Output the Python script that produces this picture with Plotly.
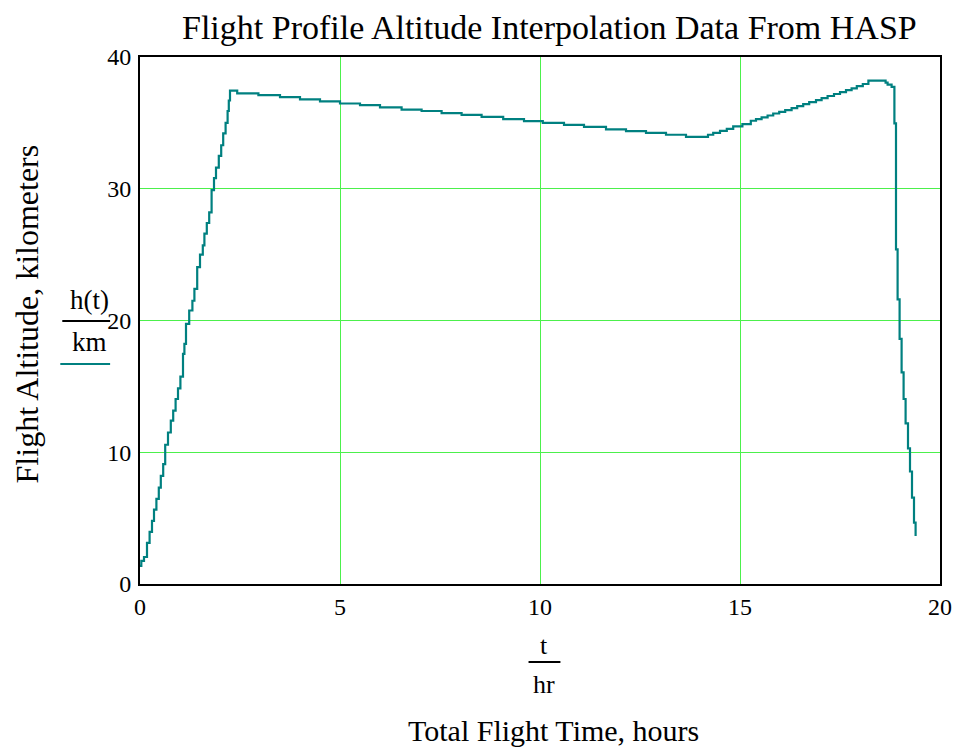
import plotly.graph_objects as go

# Time (hours) at which each step of the interpolated profile begins
t_hours = [
    0.0, 0.033, 0.1, 0.175, 0.24, 0.3, 0.35, 0.41, 0.47, 0.52, 0.58, 0.63, 0.7, 0.77, 0.83, 0.89, 0.95, 1.01, 1.075, 1.11, 1.15,
    1.23, 1.31, 1.36, 1.43, 1.5, 1.57, 1.61, 1.67, 1.73, 1.79, 1.85, 1.9, 1.97, 2.03, 2.08, 2.14, 2.19, 2.22, 2.25,
    2.43, 2.96, 3.5, 4.0, 4.5, 5.0, 5.5, 6.0, 6.54, 7.04, 7.54, 8.04, 8.54, 9.08, 9.6, 10.07, 10.6, 11.1, 11.65, 12.15,
    12.65, 13.15, 13.65,
    14.2, 14.33, 14.5, 14.67, 14.83, 15.06, 15.27, 15.4, 15.54, 15.69, 15.83, 15.98, 16.13, 16.29, 16.43, 16.58, 16.73,
    16.9, 17.04, 17.19, 17.35, 17.5, 17.65, 17.79, 17.92, 18.07, 18.21,
    18.64, 18.69, 18.79, 18.86, 18.9, 18.94, 18.99, 19.04, 19.09, 19.14, 19.2, 19.25, 19.3, 19.35, 19.39,
]
# Altitude (km) for each step
h_km = [
    1.37, 1.75, 2.05, 3.12, 3.95, 4.79, 5.65, 6.46, 7.32, 8.21, 9.1, 10.57, 11.5, 12.4, 13.16, 14.04, 14.85, 15.74, 17.47, 18.23, 19.75,
    20.76, 21.5, 22.4, 24.05, 25.0, 25.7, 26.6, 27.4, 28.2, 29.9, 30.8, 31.6, 32.5, 33.3, 34.2, 35.0, 35.9, 36.7, 37.45,
    37.24, 37.1, 36.96, 36.78, 36.63, 36.47, 36.35, 36.17, 36.0, 35.9, 35.74, 35.6, 35.46, 35.28, 35.13, 35.0, 34.85, 34.7, 34.5, 34.37,
    34.24, 34.1, 33.94,
    34.1, 34.24, 34.4, 34.55, 34.73, 34.9, 35.16, 35.28, 35.41, 35.56, 35.71, 35.84, 35.97, 36.12, 36.27, 36.43, 36.58,
    36.73, 36.88, 37.04, 37.19, 37.34, 37.49, 37.62, 37.79, 37.95, 38.2,
    38.05, 37.9, 37.74, 34.96, 25.4, 21.6, 18.6, 16.07, 14.04, 12.19, 10.3, 8.54, 6.56, 4.66, 3.65,
]

x_ticks = [0, 5, 10, 15, 20]
y_ticks = [0, 10, 20, 30, 40]

TITLE = "Flight Profile Altitude Interpolation Data From HASP"
Y_TITLE = "Flight Altitude, kilometers"
X_TITLE = "Total Flight Time, hours"

FONT = "Liberation Serif, Times New Roman, serif"
TEAL = "#008080"
GRID = "#4cf04c"

OFF = 8  # default page body margin
W, H = 964 - OFF, 753 - OFF
# plot area in window pixels
L0, R0, T0, B0 = 140, 943, 57, 584
L, R, T, B = L0 - OFF, R0 - OFF, T0 - OFF, B0 - OFF


def px(x):
    return (x - OFF - L) / (R - L)


def py(y):
    return (B - (y - OFF)) / (B - T)


fig = go.Figure()
fig.add_trace(go.Scatter(
    x=t_hours, y=h_km, mode="lines", line=dict(color=TEAL, width=2.2, shape="hv"),
    showlegend=False, hoverinfo="skip",
))

axis_common = dict(
    showline=True, linecolor="black", linewidth=2, mirror=True,
    showgrid=True, gridcolor=GRID, gridwidth=1, zeroline=False,
    ticks="", tickfont=dict(family=FONT, size=24, color="black"),
)

fig.update_layout(
    width=W, height=H,
    margin=dict(l=L, r=W - R, t=T, b=H - B),
    paper_bgcolor="white", plot_bgcolor="white",
    xaxis=dict(range=[0, 20], tickvals=x_ticks, ticktext=[str(v) for v in x_ticks], **axis_common),
    yaxis=dict(range=[0, 40], tickvals=y_ticks, ticktext=[str(v) for v in y_ticks], ticklabelstandoff=2, **axis_common),
    font=dict(family=FONT, color="black"),
)

ann = [
    dict(text=TITLE, x=px(551), y=py(27), size=34, angle=0),
    dict(text=Y_TITLE, x=px(27), y=py(314), size=32, angle=-90),
    dict(text="h(t)", x=px(89), y=py(300), size=27, angle=0),
    dict(text="km", x=px(89), y=py(342), size=27, angle=0),
    dict(text="t", x=px(546), y=py(645), size=26, angle=0),
    dict(text="hr", x=px(546), y=py(684), size=26, angle=0),
    dict(text=X_TITLE, x=px(555), y=py(731), size=30, angle=0),
]
for a in ann:
    fig.add_annotation(
        text=a["text"], x=a["x"], y=a["y"], xref="paper", yref="paper",
        xanchor="center", yanchor="middle", showarrow=False, textangle=a["angle"],
        font=dict(family=FONT, size=a["size"], color="black"), borderpad=0,
    )

# fraction bars and legend swatch
fig.add_shape(type="line", xref="paper", yref="paper", x0=px(62), x1=px(110), y0=py(321), y1=py(321),
              line=dict(color="black", width=2))
fig.add_shape(type="line", xref="paper", yref="paper", x0=px(60), x1=px(110), y0=py(364), y1=py(364),
              line=dict(color=TEAL, width=2))
fig.add_shape(type="line", xref="paper", yref="paper", x0=px(530), x1=px(562), y0=py(662), y1=py(662),
              line=dict(color="black", width=2))

fig.write_html("out.html")
